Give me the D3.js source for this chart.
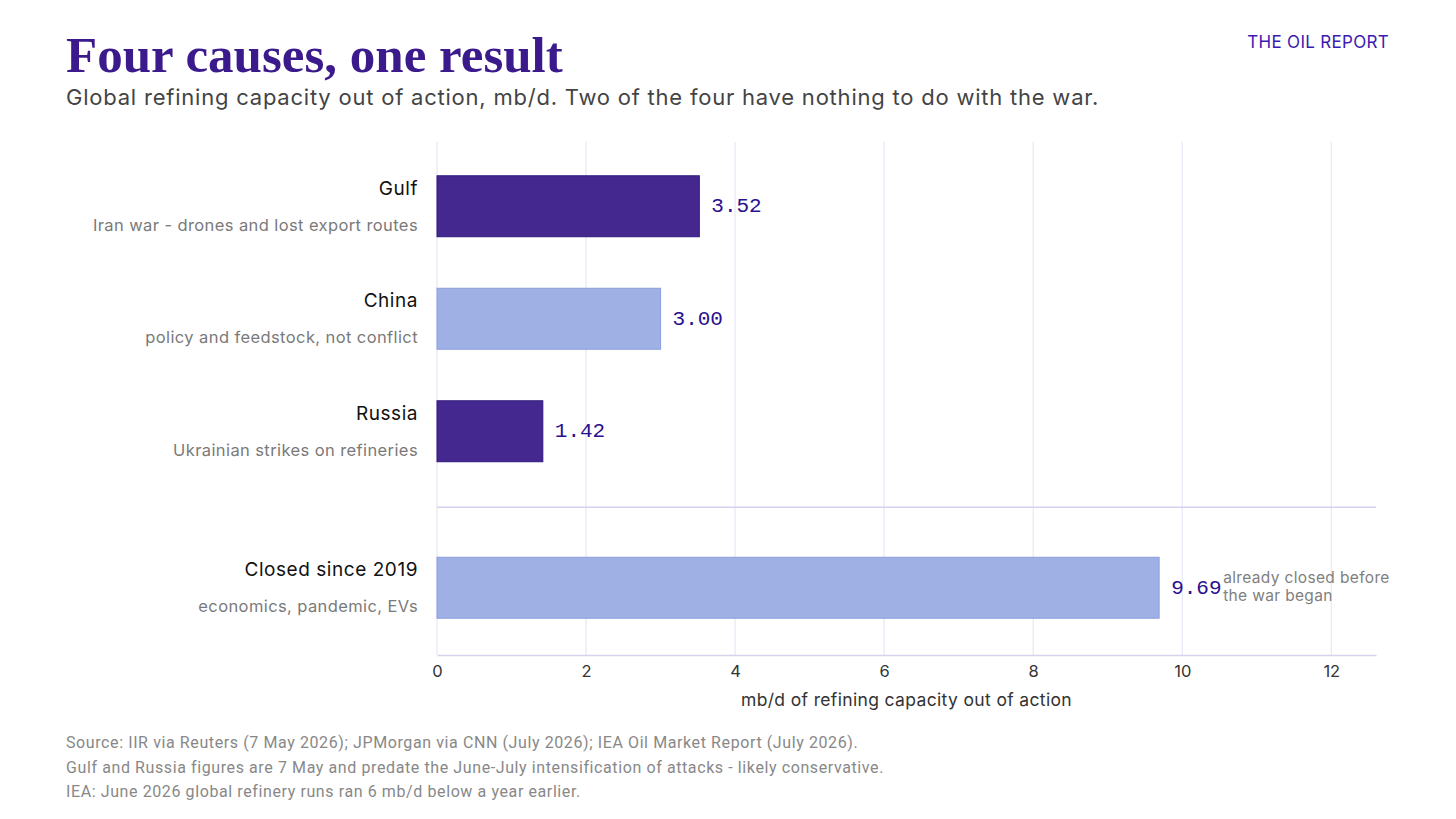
<!DOCTYPE html>
<html>
<head>
<meta charset="utf-8">
<script src="https://cdn.jsdelivr.net/npm/d3@7"></script>
<style>
  body { margin: 0; background: #fff; }
  svg { display: block; }
</style>
</head>
<body>
<div id="chart"></div>
<script>
// data
var categories = ["Gulf", "China", "Russia", "Closed since 2019"];
var subLabels = ["Iran war - drones and lost export routes", "policy and feedstock, not conflict",
                 "Ukrainian strikes on refineries", "economics, pandemic, EVs"];
var values = [3.52, 3.00, 1.42, 9.69];
var warRelated = [true, false, true, false];
var xTicks = [0, 2, 4, 6, 8, 10, 12];
var footnotes = [
  "Source: IIR via Reuters (7 May 2026); JPMorgan via CNN (July 2026); IEA Oil Market Report (July 2026).",
  "Gulf and Russia figures are 7 May and predate the June-July intensification of attacks - likely conservative.",
  "IEA: June 2026 global refinery runs ran 6 mb/d below a year earlier."
];

var width = 1456, height = 819;
var sans = "Inter, 'DejaVu Sans', sans-serif";

var svg = d3.select("#chart").append("svg")
  .attr("width", width)
  .attr("height", height);

var margin = { top: 142, left: 437, right: 80, bottom: 164 };
var plotRight = width - margin.right;
var plotBottom = height - margin.bottom;
var groupGap = 44;

var x = d3.scaleLinear()
  .domain([0, 12.6])
  .range([margin.left, plotRight]);

// four rows, 112.5px apart; the pre-war row is pushed down by groupGap
var y = d3.scaleBand()
  .domain(categories)
  .range([150, 150 + 112.5 * 4])
  .paddingInner(0.458)
  .paddingOuter(0.229);

function rowY(d, i) {
  return y(d) + (i === 3 ? groupGap : 0);
}

// header
svg.append("text")
  .attr("x", 66).attr("y", 72)
  .attr("font-family", "'Liberation Serif', 'DejaVu Serif', serif")
  .attr("font-weight", "bold")
  .attr("font-size", 51)
  .attr("fill", "#3b1a8c")
  .text("Four causes, one result");

svg.append("text")
  .attr("x", 66).attr("y", 105)
  .attr("font-family", sans)
  .attr("font-size", 22)
  .attr("letter-spacing", 0.78)
  .attr("fill", "#444")
  .text("Global refining capacity out of action, mb/d. Two of the four have nothing to do with the war.");

svg.append("text")
  .attr("x", 1389).attr("y", 48)
  .attr("text-anchor", "end")
  .attr("font-family", sans)
  .attr("font-size", 17)
  .attr("letter-spacing", 0.3)
  .attr("fill", "#3a1ab0")
  .text("THE OIL REPORT");

// grid
svg.append("g").selectAll("line")
  .data(xTicks)
  .join("line")
  .attr("x1", d => x(d)).attr("x2", d => x(d))
  .attr("y1", margin.top).attr("y2", plotBottom)
  .attr("stroke", "#e8e6f6")
  .attr("stroke-width", 1.2);

// separator between war-era causes and pre-war closures
var sepY = rowY(categories[3], 3) - 50;
svg.append("line")
  .attr("x1", margin.left).attr("x2", plotRight)
  .attr("y1", sepY).attr("y2", sepY)
  .attr("stroke", "#d6d2ee")
  .attr("stroke-width", 1.5);

// bars
svg.append("g").selectAll("rect")
  .data(categories)
  .join("rect")
  .attr("x", x(0))
  .attr("y", (d, i) => rowY(d, i))
  .attr("width", (d, i) => x(values[i]) - x(0))
  .attr("height", y.bandwidth())
  .attr("fill", (d, i) => warRelated[i] ? "#45288f" : "#9eb0e4")
  .attr("stroke", (d, i) => warRelated[i] ? "#30197d" : "#8c9fde")
  .attr("stroke-width", 1);

// value labels
svg.append("g").selectAll("text")
  .data(categories)
  .join("text")
  .attr("x", (d, i) => x(values[i]) + 12)
  .attr("y", (d, i) => rowY(d, i) + y.bandwidth() / 2 + 6)
  .attr("font-family", "'Liberation Mono', 'DejaVu Sans Mono', monospace")
  .attr("font-size", 21)
  .attr("fill", "#2a1090")
  .text((d, i) => values[i].toFixed(2));

// category labels
var labels = svg.append("g").selectAll("g")
  .data(categories)
  .join("g")
  .attr("transform", (d, i) => "translate(418," + rowY(d, i) + ")");

labels.append("text")
  .attr("y", 19)
  .attr("text-anchor", "end")
  .attr("font-family", sans)
  .attr("font-size", 19)
  .attr("letter-spacing", 0.55)
  .attr("fill", "#111")
  .text(d => d);

labels.append("text")
  .attr("y", 55)
  .attr("text-anchor", "end")
  .attr("font-family", sans)
  .attr("font-size", 16.5)
  .attr("letter-spacing", 0.4)
  .attr("fill", "#7a7a7a")
  .text((d, i) => subLabels[i]);

// annotation
var last = categories.length - 1;
var noteX = x(values[last]) + 64;
var note = svg.append("text")
  .attr("y", rowY(categories[last], last) + y.bandwidth() / 2 - 5)
  .attr("font-family", sans)
  .attr("font-size", 15.5)
  .attr("letter-spacing", 0.35)
  .attr("fill", "#808080");
note.append("tspan").attr("x", noteX).text("already closed before");
note.append("tspan").attr("x", noteX).attr("dy", 18).text("the war began");

// x axis
var xAxis = svg.append("g")
  .attr("transform", "translate(0," + plotBottom + ")")
  .call(d3.axisBottom(x).tickValues(xTicks).tickSize(0).tickPadding(10));
xAxis.select(".domain").attr("stroke", "#d6d2ee").attr("stroke-width", 1.5);
xAxis.selectAll("text")
  .attr("font-family", sans)
  .attr("font-size", 16.5)
  .attr("fill", "#333");

svg.append("text")
  .attr("x", (margin.left + plotRight) / 2)
  .attr("y", 706)
  .attr("text-anchor", "middle")
  .attr("font-family", sans)
  .attr("font-size", 17.5)
  .attr("letter-spacing", 0.35)
  .attr("fill", "#333")
  .text("mb/d of refining capacity out of action");

// footnotes
svg.append("g").selectAll("text")
  .data(footnotes)
  .join("text")
  .attr("x", 66)
  .attr("y", (d, i) => 748 + i * 24.5)
  .attr("font-family", "Roboto, sans-serif")
  .attr("font-size", 16)
  .attr("letter-spacing", 0.6)
  .attr("fill", "#888")
  .text(d => d);
</script>
</body>
</html>
